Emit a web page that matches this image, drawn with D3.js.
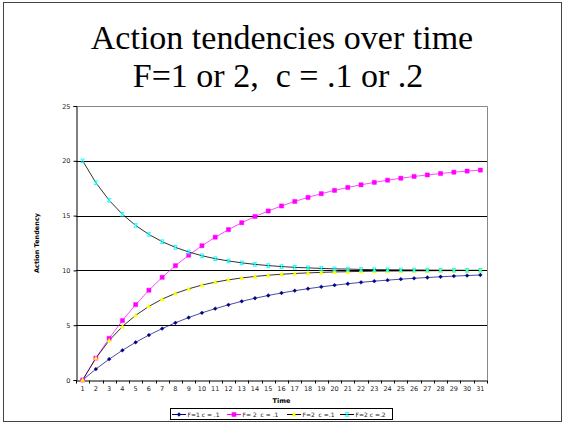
<!DOCTYPE html>
<html>
<head>
<meta charset="utf-8">
<script src="https://cdn.jsdelivr.net/npm/d3@7"></script>
<style>
  body { margin: 0; background: #fff; }
  svg { display: block; }
  text { white-space: pre; }
</style>
</head>
<body>
<svg id="chart" width="564" height="424"></svg>
<script>
// time steps 1..31
const times = d3.range(1, 32)

const yTicks = [0, 5, 10, 15, 20, 25]

// values
const f1c1 = [0, 1, 1.9, 2.71, 3.44, 4.1, 4.69, 5.22, 5.7, 6.13, 6.51, 6.86, 7.18, 7.46, 7.71, 7.94,
  8.15, 8.33, 8.5, 8.65, 8.78, 8.91, 9.02, 9.11, 9.2, 9.28, 9.35, 9.42, 9.48, 9.53, 9.58]
const f2c1 = [0, 2, 3.8, 5.42, 6.88, 8.19, 9.37, 10.43, 11.39, 12.25, 13.03, 13.72, 14.35, 14.92, 15.42, 15.88,
  16.29, 16.66, 17.0, 17.3, 17.57, 17.81, 18.03, 18.23, 18.41, 18.57, 18.71, 18.84, 18.96, 19.06, 19.15]
const f2c2up = [0, 2, 3.6, 4.88, 5.9, 6.72, 7.38, 7.9, 8.32, 8.66, 8.93, 9.14, 9.31, 9.45, 9.56, 9.65,
  9.72, 9.77, 9.82, 9.86, 9.88, 9.91, 9.93, 9.94, 9.95, 9.96, 9.97, 9.98, 9.98, 9.99, 9.99]
const f2c2down = [20, 18, 16.4, 15.12, 14.1, 13.28, 12.62, 12.1, 11.68, 11.34, 11.07, 10.86, 10.69, 10.55, 10.44, 10.35,
  10.28, 10.23, 10.18, 10.14, 10.12, 10.09, 10.07, 10.06, 10.05, 10.04, 10.03, 10.02, 10.02, 10.01, 10.01]

const seriesNames = ['F=1 c = .1', 'F= 2  c = .1', 'F=2  c =.1', 'F=2 c =.2']

const series = [
  { name: seriesNames[0], values: f1c1, line: '#000080', fill: '#000080', marker: 'diamond' },
  { name: seriesNames[1], values: f2c1, line: '#ff00ff', fill: '#ff00ff', marker: 'square' },
  { name: seriesNames[2], values: f2c2up, line: '#000000', fill: '#ffff00', marker: 'triangle' },
  { name: seriesNames[3], values: f2c2down, line: '#000000', fill: '#00ffff', marker: 'cross' }
]

const margin = { top: 106, right: 77, bottom: 44, left: 76 }
const width = 564
const height = 424

const svg = d3.select('#chart')

// outer slide frame
svg.append('rect')
  .attr('x', 3.5).attr('y', 2.5)
  .attr('width', 558).attr('height', 419)
  .attr('fill', 'none')
  .attr('stroke', '#444')

// title, two lines
const titleFont = '"Liberation Serif", "DejaVu Serif", serif'
svg.append('text')
  .attr('font-family', titleFont)
  .attr('font-size', 34)
  .attr('text-anchor', 'middle')
  .attr('x', 282).attr('y', 49)
  .text('Action tendencies over time')
svg.append('text')
  .attr('font-family', titleFont)
  .attr('font-size', 34)
  .attr('text-anchor', 'middle')
  .attr('x', 278).attr('y', 87)
  .text('F=1 or 2,  c = .1 or .2')

const x = d3.scaleBand()
  .domain(times)
  .range([margin.left, width - margin.right])

const y = d3.scaleLinear()
  .domain([0, 25])
  .range([height - margin.bottom, margin.top])

const cx = d => x(d) + x.bandwidth() / 2

// gridlines
svg.append('g')
  .selectAll('line')
  .data(yTicks.filter(t => t > 0 && t < 25))
  .enter().append('line')
  .attr('x1', margin.left)
  .attr('x2', width - margin.right)
  .attr('y1', d => Math.round(y(d)) + 0.5)
  .attr('y2', d => Math.round(y(d)) + 0.5)
  .attr('stroke', '#000')

// plot border top/right
svg.append('path')
  .attr('d', `M${margin.left},${Math.round(y(25)) + 0.5}H${width - margin.right + 0.5}V${y(0)}`)
  .attr('fill', 'none')
  .attr('stroke', '#888')

const tickFont = '"DejaVu Sans", Verdana, sans-serif'

// x axis
const xAxis = svg.append('g')
  .attr('transform', 'translate(0,' + (Math.round(y(0)) + 0.5) + ')')
  .call(d3.axisBottom(x).tickSize(0).tickPadding(6))
xAxis.select('.domain').attr('stroke', '#000')
xAxis.selectAll('text')
  .attr('font-family', tickFont)
  .attr('font-size', 6.5)
  .attr('fill', '#222')
xAxis.selectAll('.boundary')
  .data(times.concat([32]))
  .enter().append('line')
  .attr('class', 'boundary')
  .attr('x1', d => Math.round(d === 32 ? width - margin.right : x(d)) + 0.5)
  .attr('x2', d => Math.round(d === 32 ? width - margin.right : x(d)) + 0.5)
  .attr('y1', 0).attr('y2', 3)
  .attr('stroke', '#000')

// y axis
const yAxis = svg.append('g')
  .attr('transform', 'translate(' + (margin.left + 0.5) + ',0)')
  .call(d3.axisLeft(y).tickValues(yTicks).tickSize(3).tickPadding(3))
yAxis.select('.domain').attr('stroke', '#000')
yAxis.selectAll('.tick line').attr('stroke', '#000')
yAxis.selectAll('text')
  .attr('font-family', tickFont)
  .attr('font-size', 6.5)
  .attr('fill', '#222')

// axis titles
svg.append('text')
  .text('Time')
  .attr('x', margin.left + (width - margin.left - margin.right) / 2)
  .attr('y', 403)
  .attr('text-anchor', 'middle')
  .attr('font-family', tickFont)
  .attr('font-weight', 'bold')
  .attr('font-size', 6.5)

svg.append('text')
  .text('Action Tendency')
  .attr('transform', 'translate(39,' + (y(12.5)) + ') rotate(-90)')
  .attr('text-anchor', 'middle')
  .attr('font-family', tickFont)
  .attr('font-weight', 'bold')
  .attr('font-size', 6.5)

const markerPath = (type, s) => {
  if (type === 'diamond') return `M0,${-s}L${s},0L0,${s}L${-s},0Z`
  if (type === 'square') return `M${-s},${-s}H${s}V${s}H${-s}Z`
  if (type === 'triangle') return `M0,${-s}L${s},${s * 0.8}L${-s},${s * 0.8}Z`
  return `M${-s},${-s}L${s},${s}M${s},${-s}L${-s},${s}M${-s},${-s}H${s}M${-s},${s}H${s}`
}

const markerSize = { diamond: 1.9, square: 2.1, triangle: 2.2, cross: 1.8 }

const line = d3.line()
  .x((d, i) => cx(times[i]))
  .y(d => y(d))

const plot = svg.append('g')

series.forEach(s => {
  plot.append('path')
    .datum(s.values)
    .attr('d', line)
    .attr('fill', 'none')
    .attr('stroke', s.line)
    .attr('stroke-width', 1)
    .attr('stroke-opacity', s.marker === 'diamond' || s.marker === 'square' ? 0.7 : 0.8)
})

series.forEach(s => {
  plot.append('g')
    .selectAll('path')
    .data(s.values)
    .enter().append('path')
    .attr('transform', (d, i) => 'translate(' + cx(times[i]) + ',' + y(d) + ')')
    .attr('d', markerPath(s.marker, markerSize[s.marker]))
    .attr('fill', s.marker === 'cross' ? 'none' : s.fill)
    .attr('stroke', s.fill)
    .attr('stroke-width', s.marker === 'cross' ? 0.9 : 0.4)
})

// legend
const legend = svg.append('g')
  .attr('font-family', tickFont)
  .attr('font-size', 6)

const legendX = [172, 227, 287, 340]
const legendRight = 392

legend.append('rect')
  .attr('x', 170.5).attr('y', 408.5)
  .attr('width', legendRight - 170).attr('height', 11)
  .attr('fill', '#fff')
  .attr('stroke', '#000')

series.forEach((s, i) => {
  const g = legend.append('g').attr('transform', 'translate(' + legendX[i] + ',414.5)')
  g.append('line')
    .attr('x1', 0).attr('x2', 14)
    .attr('stroke', s.line)
  g.append('path')
    .attr('transform', 'translate(7,0)')
    .attr('d', markerPath(s.marker, markerSize[s.marker]))
    .attr('fill', s.marker === 'cross' ? 'none' : s.fill)
    .attr('stroke', s.fill)
    .attr('stroke-width', s.marker === 'cross' ? 0.9 : 0.4)
  g.append('text')
    .attr('x', 15.5).attr('y', 2.2)
    .attr('fill', '#222')
    .text(s.name)
})
</script>
</body>
</html>
